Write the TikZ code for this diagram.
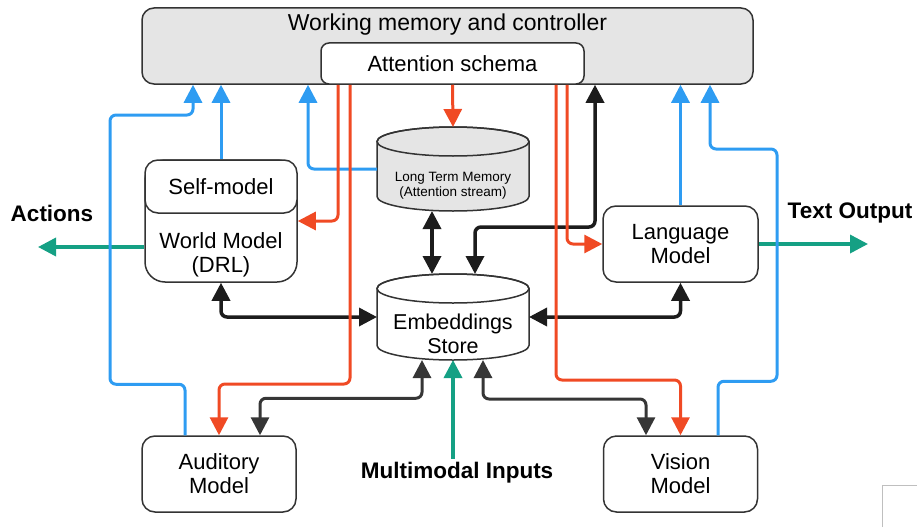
\documentclass[tikz,border=0pt]{standalone}
\usepackage{fontspec}
\setmainfont{Liberation Sans}
\usetikzlibrary{arrows.meta, calc}

\definecolor{boxline}{HTML}{333333}
\definecolor{panelgray}{HTML}{E5E5E5}
\definecolor{wireblue}{HTML}{2E9CF2}
\definecolor{wirered}{HTML}{F04A24}
\definecolor{wiregreen}{HTML}{15A084}
\definecolor{wireblack}{HTML}{1C1C1C}
\definecolor{wiredark}{HTML}{363636}

% drum outline round a named node: #1 node, #2 fill, #3 half height of the end ellipse
\newcommand{\drum}[3]{%
	\draw[draw=boxline, fill=#2, line width=1.5pt]
		($(#1.north west)+(0,#3)$) -- ($(#1.south west)+(0,-#3)$)
		arc[start angle=180, end angle=0, x radius=76, y radius=#3]
		-- ($(#1.north east)+(0,#3)$)
		arc[start angle=0, end angle=-180, x radius=76, y radius=#3] -- cycle;
	\draw[draw=boxline, line width=1.5pt] ($(#1.north)+(0,#3)$) ellipse[x radius=76, y radius=#3];
}

\begin{document}
\begin{tikzpicture}[
		x=1pt, y=-1pt,
		>={Triangle[length=18pt, width=18pt]},
		box/.style={draw=boxline, line width=1.5pt, rounded corners=13pt, fill=white, align=center, inner sep=0pt, font=\fontsize{22}{24}\selectfont},
		drumspot/.style={rectangle, minimum width=152pt, inner sep=0pt, outer sep=0pt},
		tag/.style={font=\bfseries\fontsize{22.5}{26}\selectfont},
		bluewire/.style={->, draw=wireblue, line width=3pt, rounded corners=6pt},
		redwire/.style={->, draw=wirered, line width=3pt, rounded corners=6pt},
		greenwire/.style={->, draw=wiregreen, line width=3.5pt},
		blackwire/.style={<->, draw=wireblack, line width=3.5pt, rounded corners=6pt},
		darkwire/.style={<->, draw=wiredark, line width=3pt, rounded corners=6pt},
	]
	\useasboundingbox (0,0) rectangle (917,527);

	% working memory
	\node[box, fill=panelgray, rounded corners=12pt, minimum width=611pt, minimum height=76pt] (wm) at (447.5,46) {};
	\node[font=\fontsize{23}{26}\selectfont] (wmtitle) at (447.5,25) {Working memory and controller};
	\node[box, rounded corners=8pt, minimum width=263pt, minimum height=41pt] (att) at (452.5,63.5) {Attention schema};

	% memories
	\node[drumspot, minimum height=84pt] (ltm) at (453,169) {};
	\drum{ltm}{panelgray}{14.5}
	\node[align=center, font=\fontsize{13.5}{15}\selectfont] (ltmtext) at (453,185.5) {Long Term Memory\\(Attention stream)};
	\node[drumspot, minimum height=86pt] (emb) at (453,317) {};
	\drum{emb}{white}{14.5}
	\node[align=center, font=\fontsize{21.5}{24}\selectfont] (embtext) at (453,334) {Embeddings\\Store};

	% models
	\node[box, rounded corners=20pt, minimum width=152pt, minimum height=122pt] (world) at (221,221) {};
	\node[box, minimum width=152pt, minimum height=53pt] (self) at (221,186.5) {Self-model};
	\node[align=center, font=\fontsize{22}{24}\selectfont] (worldtext) at (221,254.5) {World Model\\(DRL)};
	\node[box, minimum width=155pt, minimum height=76pt] (lang) at (680.5,244) {Language\\Model};
	\node[box, minimum width=154pt, minimum height=76pt] (aud) at (219,474) {Auditory\\Model};
	\node[box, minimum width=154pt, minimum height=76pt] (vis) at (680.5,474) {Vision\\Model};

	% outside labels
	\node[tag] (actions) at (52,213) {Actions};
	\node[tag] (textout) at (850,213) {Text Output};
	\node[tag] (inputs) at (457,473) {Multimodal Inputs};
	\coordinate (actend) at (38,247);
	\coordinate (textend) at (868,244);

	\draw[greenwire] ([yshift=-26pt]world.west) -- (actend);
	\draw[greenwire] (lang.east |- textend) -- (textend);
	\draw[greenwire] (emb.south |- inputs.north) -- (emb.south);

	\draw[bluewire] ([xshift=-34pt]aud.north) -- ++(0,-51) -| (110,115) -| ([xshift=-254.5pt]wm.south);
	\draw[bluewire] (self.north) -- (self.north |- wm.south);
	\draw[bluewire] (ltm.west) -| ([xshift=-139.5pt]wm.south);
	\draw[bluewire] (lang.north) -- (lang.north |- wm.south);
	\draw[bluewire] ([xshift=37.5pt]vis.north) -- ++(0,-54) -| (777,149) -| ([xshift=262.5pt]wm.south);

	\draw[blackwire] ([xshift=22pt]emb.north) -- ++(0,-47) -| ([xshift=147.5pt]wm.south);
	\draw[blackwire] ([xshift=-21pt]ltm.south) -- ([xshift=-21pt]emb.north);
	\draw[blackwire] (world.south) |- (emb.west);
	\draw[blackwire] (lang.south) |- (emb.east);
	\draw[darkwire] ([xshift=41pt]aud.north) -- ++(0,-37) -| ([xshift=-31pt]emb.south);
	\draw[darkwire] ([xshift=30pt]emb.south) -- ++(0,39) -| ([xshift=-34.5pt]vis.north);

	\draw[redwire] (att.south) -- (ltm.north);
	\draw[redwire] ([xshift=-114.5pt]att.south) |- (world.east);
	\draw[redwire] ([xshift=-102.5pt]att.south) |- (aud.north |- 0,384) -- (aud.north);
	\draw[redwire] ([xshift=114.5pt]att.south) |- (lang.west);
	\draw[redwire] ([xshift=103.5pt]att.south) |- (vis.north |- 0,380) -- (vis.north);

	\draw[gray!50, line width=1pt] (882,527) |- (917,485);
\end{tikzpicture}
\end{document}
